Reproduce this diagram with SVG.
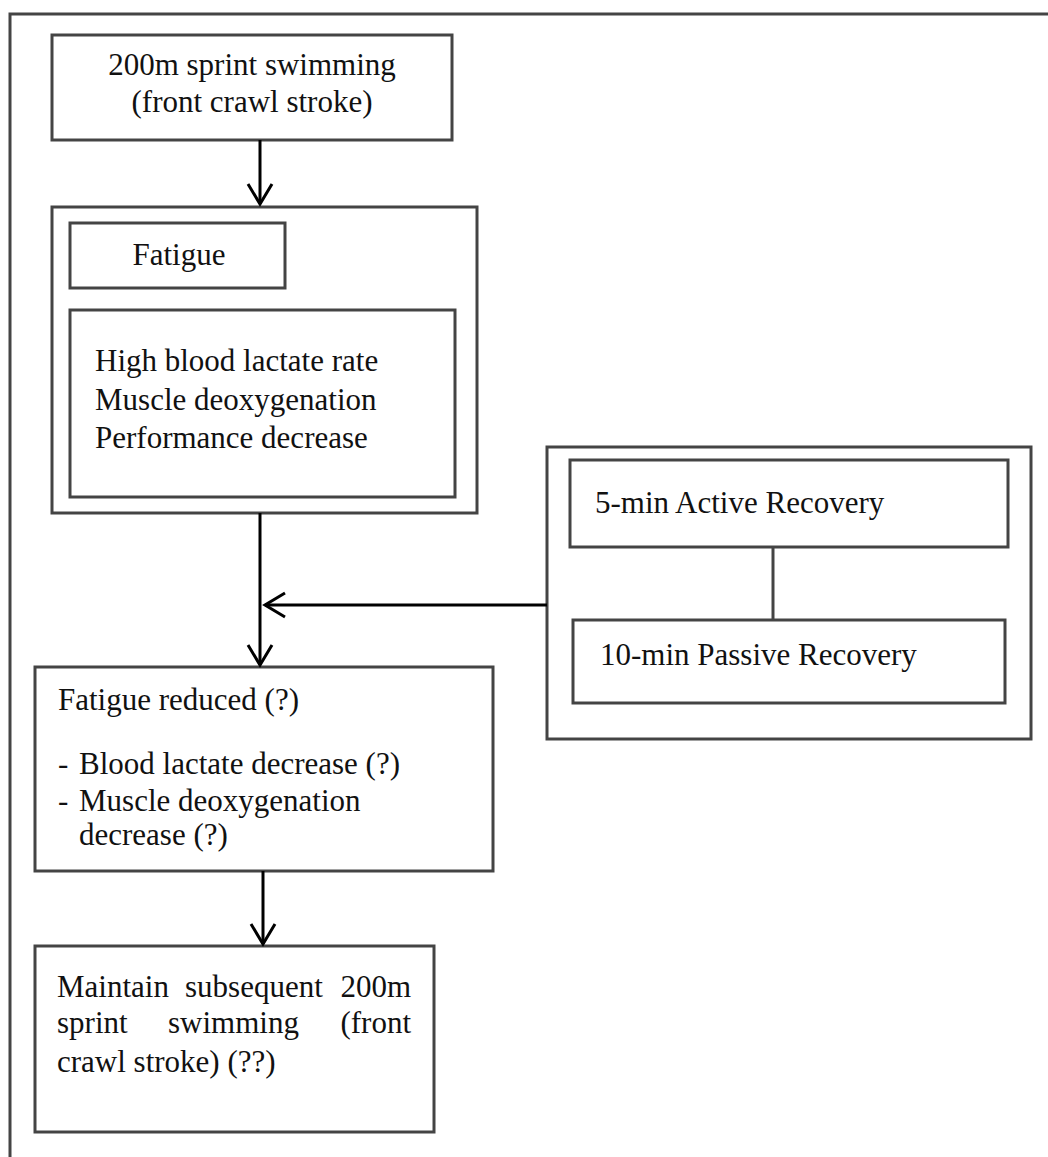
<svg xmlns="http://www.w3.org/2000/svg" width="1048" height="1157" viewBox="0 0 1048 1157">
<style>
.box{fill:#fff;stroke:#444;stroke-width:3}
.frame{fill:none;stroke:#444;stroke-width:3}
.t{font-family:"Liberation Serif","Times New Roman",serif;font-size:31px;fill:#111}
.c{text-anchor:middle}
.e{text-anchor:end}
.conn{fill:none;stroke:#000;stroke-width:3}
.link{fill:none;stroke:#444;stroke-width:3}
</style>
<defs>
<marker id="arr" markerUnits="userSpaceOnUse" markerWidth="30" markerHeight="30" refX="0" refY="0" orient="auto" overflow="visible">
<path d="M-20,-12 L0,0 L-20,12" fill="none" stroke="#000" stroke-width="3"/>
</marker>
</defs>
<rect width="1048" height="1157" fill="#fff"/>
<g id="frame">
<path class="frame" d="M10,1157 L10,14 L1048,14"/>
</g>
<g id="node-sprint">
<rect class="box" x="52" y="35" width="400" height="105"/>
<text class="t c" x="252" y="75">200m sprint swimming</text>
<text class="t c" x="252" y="112">(front crawl stroke)</text>
</g>
<g id="node-fatigue-group">
<rect class="box" x="52" y="207" width="425" height="306"/>
</g>
<g id="node-fatigue">
<rect class="box" x="70" y="223" width="215" height="65"/>
<text class="t c" x="179" y="265">Fatigue</text>
</g>
<g id="node-symptoms">
<rect class="box" x="70" y="310" width="385" height="187"/>
<text class="t" x="95" y="371">High blood lactate rate</text>
<text class="t" x="95" y="410">Muscle deoxygenation</text>
<text class="t" x="95" y="448">Performance decrease</text>
</g>
<g id="node-recovery-group">
<rect class="box" x="547" y="447" width="484" height="292"/>
</g>
<g id="node-active">
<rect class="box" x="570" y="460" width="438" height="87"/>
<text class="t" x="595" y="513">5-min Active Recovery</text>
</g>
<g id="node-passive">
<rect class="box" x="573" y="620" width="432" height="83"/>
<text class="t" x="600" y="665">10-min Passive Recovery</text>
</g>
<g id="node-reduced">
<rect class="box" x="35" y="667" width="458" height="204"/>
<text class="t" x="58" y="710">Fatigue reduced (?)</text>
<text class="t" x="58" y="774">-</text>
<text class="t" x="79" y="774">Blood lactate decrease (?)</text>
<text class="t" x="58" y="811">-</text>
<text class="t" x="79" y="811">Muscle deoxygenation</text>
<text class="t" x="79" y="845">decrease (?)</text>
</g>
<g id="node-maintain">
<rect class="box" x="35" y="946" width="399" height="186"/>
<text class="t" x="57" y="997">Maintain</text>
<text class="t" x="185" y="997">subsequent</text>
<text class="t e" x="411" y="997">200m</text>
<text class="t" x="57" y="1033">sprint</text>
<text class="t" x="168" y="1033">swimming</text>
<text class="t e" x="411" y="1033">(front</text>
<text class="t" x="57" y="1072">crawl stroke) (??)</text>
</g>
<g id="connectors">
<line class="conn" x1="260" y1="140" x2="260" y2="204" marker-end="url(#arr)"/>
<line class="conn" x1="260" y1="513" x2="260" y2="665" marker-end="url(#arr)"/>
<line class="conn" x1="547" y1="605" x2="265" y2="605" marker-end="url(#arr)"/>
<line class="conn" x1="263" y1="871" x2="263" y2="944" marker-end="url(#arr)"/>
<line class="link" x1="773" y1="547" x2="773" y2="620"/>
</g>
</svg>
